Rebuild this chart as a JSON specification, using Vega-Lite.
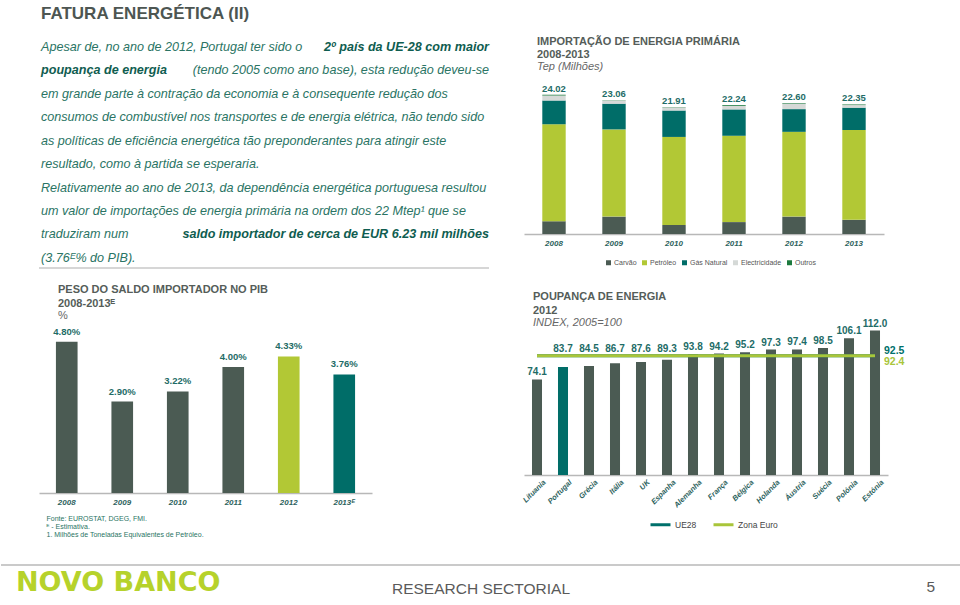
{
  "$schema": "https://vega.github.io/schema/vega-lite/v6.json",
  "padding": 0,
  "background": "white",
  "config": {
    "font": "Liberation Sans",
    "view": {"stroke": null},
    "axis": {"grid": false},
    "title": {"font": "Liberation Sans", "subtitleFont": "Liberation Sans", "frame": "group"},
    "legend": {"labelFont": "Liberation Sans"}
  },
  "datasets": {
    "paragrafo": [
      {"linha": 1, "parte": "início", "destaque": false, "texto": "Apesar de, no ano de 2012, Portugal ter sido o"},
      {"linha": 1, "parte": "fim", "destaque": true, "texto": "2º país da UE-28 com maior"},
      {"linha": 2, "parte": "início", "destaque": true, "texto": "poupança de energia"},
      {"linha": 2, "parte": "fim", "destaque": false, "texto": "(tendo 2005 como ano base), esta redução deveu-se"},
      {"linha": 3, "parte": "início", "destaque": false, "texto": "em grande parte à contração da economia e à consequente redução dos"},
      {"linha": 4, "parte": "início", "destaque": false, "texto": "consumos de combustível nos transportes e de energia elétrica, não tendo sido"},
      {"linha": 5, "parte": "início", "destaque": false, "texto": "as políticas de eficiência energética tão preponderantes para atingir este"},
      {"linha": 6, "parte": "início", "destaque": false, "texto": "resultado, como à partida se esperaria."},
      {"linha": 7, "parte": "início", "destaque": false, "texto": "Relativamente ao ano de 2013, da dependência energética portuguesa resultou"},
      {"linha": 8, "parte": "início", "destaque": false, "texto": "um valor de importações de energia primária na ordem dos 22 Mtep¹ que se"},
      {"linha": 9, "parte": "início", "destaque": false, "texto": "traduziram num"},
      {"linha": 9, "parte": "fim", "destaque": true, "texto": "saldo importador de cerca de EUR 6.23 mil milhões"},
      {"linha": 10, "parte": "início", "destaque": false, "texto": "(3.76ᴱ% do PIB)."}
    ],
    "importacao": [
      {"ano": "2008", "fonte": "Carvão", "valor": 2.20},
      {"ano": "2008", "fonte": "Petróleo", "valor": 16.75},
      {"ano": "2008", "fonte": "Gás Natural", "valor": 4.09},
      {"ano": "2008", "fonte": "Electricidade", "valor": 0.88},
      {"ano": "2008", "fonte": "Outros", "valor": 0.10},
      {"ano": "2009", "fonte": "Carvão", "valor": 3.00},
      {"ano": "2009", "fonte": "Petróleo", "valor": 15.05},
      {"ano": "2009", "fonte": "Gás Natural", "valor": 4.44},
      {"ano": "2009", "fonte": "Electricidade", "valor": 0.52},
      {"ano": "2009", "fonte": "Outros", "valor": 0.05},
      {"ano": "2010", "fonte": "Carvão", "valor": 1.55},
      {"ano": "2010", "fonte": "Petróleo", "valor": 15.20},
      {"ano": "2010", "fonte": "Gás Natural", "valor": 4.56},
      {"ano": "2010", "fonte": "Electricidade", "valor": 0.55},
      {"ano": "2010", "fonte": "Outros", "valor": 0.05},
      {"ano": "2011", "fonte": "Carvão", "valor": 2.05},
      {"ano": "2011", "fonte": "Petróleo", "valor": 14.90},
      {"ano": "2011", "fonte": "Gás Natural", "valor": 4.55},
      {"ano": "2011", "fonte": "Electricidade", "valor": 0.60},
      {"ano": "2011", "fonte": "Outros", "valor": 0.14},
      {"ano": "2012", "fonte": "Carvão", "valor": 3.00},
      {"ano": "2012", "fonte": "Petróleo", "valor": 14.63},
      {"ano": "2012", "fonte": "Gás Natural", "valor": 3.92},
      {"ano": "2012", "fonte": "Electricidade", "valor": 0.95},
      {"ano": "2012", "fonte": "Outros", "valor": 0.10},
      {"ano": "2013", "fonte": "Carvão", "valor": 2.45},
      {"ano": "2013", "fonte": "Petróleo", "valor": 15.50},
      {"ano": "2013", "fonte": "Gás Natural", "valor": 3.85},
      {"ano": "2013", "fonte": "Electricidade", "valor": 0.45},
      {"ano": "2013", "fonte": "Outros", "valor": 0.10}
    ],
    "totais": [
      {"ano": "2008", "total": 24.02},
      {"ano": "2009", "total": 23.06},
      {"ano": "2010", "total": 21.91},
      {"ano": "2011", "total": 22.24},
      {"ano": "2012", "total": 22.60},
      {"ano": "2013", "total": 22.35}
    ],
    "pib": [
      {"ano": "2008", "valor": 0.0480},
      {"ano": "2009", "valor": 0.0290},
      {"ano": "2010", "valor": 0.0322},
      {"ano": "2011", "valor": 0.0400},
      {"ano": "2012", "valor": 0.0433},
      {"ano": "2013ᴱ", "valor": 0.0376}
    ],
    "poupanca": [
      {"pais": "Lituania", "indice": 74.1},
      {"pais": "Portugal", "indice": 83.7},
      {"pais": "Grécia", "indice": 84.5},
      {"pais": "Itália", "indice": 86.7},
      {"pais": "UK", "indice": 87.6},
      {"pais": "Espanha", "indice": 89.3},
      {"pais": "Alemanha", "indice": 93.8},
      {"pais": "França", "indice": 94.2},
      {"pais": "Bélgica", "indice": 95.2},
      {"pais": "Holanda", "indice": 97.3},
      {"pais": "Áustria", "indice": 97.4},
      {"pais": "Suécia", "indice": 98.5},
      {"pais": "Polónia", "indice": 106.1},
      {"pais": "Estónia", "indice": 112.0}
    ],
    "linhas": [
      {"serie": "UE28", "valor": 92.5},
      {"serie": "Zona Euro", "valor": 92.4}
    ],
    "rodape": [
      {"papel": "marca", "texto": "NOVO BANCO"},
      {"papel": "secção", "texto": "RESEARCH SECTORIAL"},
      {"papel": "página", "texto": "5"}
    ]
  },
  "vconcat": [
    {
      "concat": [
        {"width": 3, "height": 1, "data": {"values": []}, "mark": {"type": "point", "opacity": 0}},
        {
          "width": 450,
          "height": 268,
          "layer": [
            {
              "data": {"values": [{"texto": "FATURA ENERGÉTICA (II)", "linha": 0}]},
              "mark": {"type": "text", "align": "left", "baseline": "middle", "fontSize": 17, "fontWeight": "bold", "color": "#4d5652", "dy": -9.5, "dx": 2},
              "encoding": {
                "x": {"datum": 0, "type": "quantitative", "scale": {"domain": [0, 1], "nice": false, "zero": false}, "axis": null},
                "y": {"field": "linha", "type": "quantitative", "scale": {"domain": [-1, 10.43], "reverse": true, "nice": false, "zero": false}, "axis": null},
                "text": {"field": "texto"}
              }
            },
            {
              "data": {"name": "paragrafo"},
              "transform": [{"filter": "datum.parte === 'início' && !datum.destaque"}],
              "mark": {"type": "text", "align": "left", "baseline": "middle", "fontSize": 12.6, "fontStyle": "italic", "color": "#2a7464", "dx": 2},
              "encoding": {
                "x": {"datum": 0, "type": "quantitative"},
                "y": {"field": "linha", "type": "quantitative"},
                "text": {"field": "texto"}
              }
            },
            {
              "data": {"name": "paragrafo"},
              "transform": [{"filter": "datum.parte === 'início' && datum.destaque"}],
              "mark": {"type": "text", "align": "left", "baseline": "middle", "fontSize": 12.6, "fontStyle": "italic", "fontWeight": "bold", "color": "#0f5d50", "dx": 2},
              "encoding": {
                "x": {"datum": 0, "type": "quantitative"},
                "y": {"field": "linha", "type": "quantitative"},
                "text": {"field": "texto"}
              }
            },
            {
              "data": {"name": "paragrafo"},
              "transform": [{"filter": "datum.parte === 'fim' && !datum.destaque"}],
              "mark": {"type": "text", "align": "right", "baseline": "middle", "fontSize": 12.6, "fontStyle": "italic", "color": "#2a7464"},
              "encoding": {
                "x": {"datum": 1, "type": "quantitative"},
                "y": {"field": "linha", "type": "quantitative"},
                "text": {"field": "texto"}
              }
            },
            {
              "data": {"name": "paragrafo"},
              "transform": [{"filter": "datum.parte === 'fim' && datum.destaque"}],
              "mark": {"type": "text", "align": "right", "baseline": "middle", "fontSize": 12.6, "fontStyle": "italic", "fontWeight": "bold", "color": "#0f5d50"},
              "encoding": {
                "x": {"datum": 1, "type": "quantitative"},
                "y": {"field": "linha", "type": "quantitative"},
                "text": {"field": "texto"}
              }
            },
            {
              "data": {"values": [{"elemento": "separador"}]},
              "mark": {"type": "rule", "color": "#c8c8c8", "strokeWidth": 1.5},
              "encoding": {"y": {"datum": 10.43, "type": "quantitative"}}
            }
          ]
        },
        {
          "width": 360,
          "height": 234,
          "title": {
            "text": ["IMPORTAÇÃO DE ENERGIA PRIMÁRIA", "2008-2013"],
            "subtitle": "Tep (Milhões)",
            "anchor": "start",
            "dx": 13,
            "offset": -72,
            "fontSize": 11,
            "fontWeight": "bold",
            "color": "#555d59",
            "lineHeight": 13,
            "subtitleFontSize": 11,
            "subtitleFontStyle": "italic",
            "subtitleColor": "#666666",
            "subtitlePadding": 1
          },
          "layer": [
            {
              "data": {"name": "importacao"},
              "transform": [{"calculate": "indexof(['Carvão', 'Petróleo', 'Gás Natural', 'Electricidade', 'Outros'], datum.fonte)", "as": "ordem_pilha"}],
              "mark": {"type": "bar"},
              "encoding": {
                "x": {
                  "field": "ano", "type": "nominal", "sort": null,
                  "scale": {"paddingInner": 0.61, "paddingOuter": 0.305},
                  "axis": {"title": null, "labelAngle": 0, "ticks": false, "labelFontSize": 8, "labelFontWeight": "bold", "labelFontStyle": "italic", "labelColor": "#2c625d", "domainColor": "#b8b8b8", "domainWidth": 1.5, "labelPadding": 5}
                },
                "y": {"aggregate": "sum", "field": "valor", "type": "quantitative", "scale": {"domain": [0, 40.38], "nice": false}, "axis": null},
                "order": {"field": "ordem_pilha", "type": "quantitative", "sort": "ascending"},
                "color": {
                  "field": "fonte", "type": "nominal",
                  "sort": ["Carvão", "Petróleo", "Gás Natural", "Electricidade", "Outros"],
                  "scale": {"domain": ["Carvão", "Petróleo", "Gás Natural", "Electricidade", "Outros"], "range": ["#4b5b53", "#b2c835", "#006d68", "#d5d9d7", "#1c7a3e"]},
                  "legend": {"orient": "none", "legendX": 81, "legendY": 259, "direction": "horizontal", "columns": 5, "title": null, "symbolType": "square", "symbolSize": 25, "symbolStrokeWidth": 0, "labelFontSize": 7, "labelColor": "#555555", "columnPadding": 4, "labelOffset": 2, "padding": 0}
                }
              }
            },
            {
              "data": {"name": "totais"},
              "mark": {"type": "text", "baseline": "bottom", "dy": -1, "fontSize": 9.5, "fontWeight": "bold", "color": "#1e6c67"},
              "encoding": {
                "x": {"field": "ano", "type": "nominal", "sort": null},
                "y": {"field": "total", "type": "quantitative"},
                "text": {"field": "total", "type": "quantitative", "format": ".2f"}
              }
            }
          ]
        },
        {"width": 3, "height": 1, "data": {"values": []}, "mark": {"type": "point", "opacity": 0}},
        {
          "width": 333,
          "height": 169,
          "title": {
            "text": ["PESO DO SALDO IMPORTADOR NO PIB", "2008-2013ᴱ"],
            "subtitle": "%",
            "anchor": "start",
            "dx": 19,
            "offset": 3.5,
            "fontSize": 11,
            "fontWeight": "bold",
            "color": "#555d59",
            "lineHeight": 14,
            "subtitleFontSize": 11,
            "subtitleColor": "#666666",
            "subtitlePadding": 1
          },
          "data": {"name": "pib"},
          "encoding": {
            "x": {
              "field": "ano", "type": "nominal", "sort": null,
              "scale": {"paddingInner": 0.61, "paddingOuter": 0.305},
              "axis": {
                "title": ["Fonte: EUROSTAT, DGEG, FMI.", "ᴱ - Estimativa.", "1. Milhões de Toneladas Equivalentes de Petróleo."],
                "titleAnchor": "start", "titleAlign": "left", "titleBaseline": "top", "titleX": 7, "titleY": 21,
                "titleFontSize": 7, "titleFontWeight": "normal", "titleColor": "#2a7464", "titleLineHeight": 8,
                "labelAngle": 0, "ticks": false, "labelFontSize": 8, "labelFontWeight": "bold", "labelFontStyle": "italic", "labelColor": "#2c625d", "domainColor": "#b8b8b8", "domainWidth": 1.5, "labelPadding": 5
              }
            },
            "y": {"field": "valor", "type": "quantitative", "scale": {"domain": [0, 0.0536], "nice": false}, "axis": null}
          },
          "layer": [
            {
              "mark": {"type": "bar"},
              "encoding": {
                "color": {
                  "field": "ano", "type": "nominal",
                  "scale": {"domain": ["2008", "2009", "2010", "2011", "2012", "2013ᴱ"], "range": ["#4b5b53", "#4b5b53", "#4b5b53", "#4b5b53", "#b2c835", "#006d68"]},
                  "legend": null
                }
              }
            },
            {
              "mark": {"type": "text", "baseline": "bottom", "dy": -5, "fontSize": 9.5, "fontWeight": "bold", "color": "#1e6c67"},
              "encoding": {"text": {"field": "valor", "type": "quantitative", "format": ".2%"}}
            }
          ]
        },
        {
          "width": 364,
          "height": 151,
          "title": {
            "text": ["POUPANÇA DE ENERGIA", "2012"],
            "subtitle": "INDEX, 2005=100",
            "anchor": "start",
            "dx": 9,
            "offset": -9,
            "fontSize": 11,
            "fontWeight": "bold",
            "color": "#555d59",
            "lineHeight": 14,
            "subtitleFontSize": 11,
            "subtitleFontStyle": "italic",
            "subtitleColor": "#666666",
            "subtitlePadding": 1
          },
          "layer": [
            {
              "data": {"name": "poupanca"},
              "mark": {"type": "bar"},
              "encoding": {
                "x": {
                  "field": "pais", "type": "nominal", "sort": null,
                  "scale": {"paddingInner": 0.615, "paddingOuter": 0.3075},
                  "axis": {"title": null, "labelAngle": -45, "labelAlign": "right", "labelOffset": 5, "ticks": false, "labelFontSize": 7.5, "labelFontWeight": "bold", "labelFontStyle": "italic", "labelColor": "#2c625d", "domainColor": "#b8b8b8", "domainWidth": 1.5, "labelPadding": 3}
                },
                "y": {"field": "indice", "type": "quantitative", "scale": {"domain": [0, 117.1], "nice": false}, "axis": null},
                "color": {"condition": {"test": "datum.pais === 'Portugal'", "value": "#006d68"}, "value": "#4b5b53"}
              }
            },
            {
              "data": {"name": "poupanca"},
              "transform": [{"calculate": "datum.indice > 80 && datum.indice < 92.4 ? 92.4 : datum.indice", "as": "posicao_rotulo"}],
              "mark": {"type": "text", "baseline": "bottom", "dy": -2, "fontSize": 10, "fontWeight": "bold", "color": "#1e6c67"},
              "encoding": {
                "x": {"field": "pais", "type": "nominal", "sort": null},
                "y": {"field": "posicao_rotulo", "type": "quantitative"},
                "text": {"field": "indice", "type": "quantitative", "format": ".1f"}
              }
            },
            {
              "data": {"name": "linhas"},
              "mark": {"type": "rule", "strokeWidth": 3},
              "encoding": {
                "x": {"datum": "Lituania", "bandPosition": 0.5},
                "x2": {"datum": "Estónia"},
                "y": {"field": "valor", "type": "quantitative"},
                "color": {
                  "field": "serie", "type": "nominal",
                  "scale": {"domain": ["UE28", "Zona Euro"], "range": ["#00706b", "#a9c53a"]},
                  "legend": {"orient": "none", "legendX": 125, "legendY": 189, "direction": "horizontal", "columns": 2, "title": null, "symbolType": "stroke", "symbolStrokeWidth": 3, "symbolSize": 400, "labelFontSize": 8.5, "labelColor": "#444444", "columnPadding": 10, "labelOffset": 3, "padding": 0}
                }
              }
            },
            {
              "data": {"name": "linhas"},
              "transform": [{"filter": "datum.serie === 'UE28'"}],
              "mark": {"type": "text", "align": "left", "baseline": "bottom", "dx": 9, "dy": 0, "fontSize": 10.5, "fontWeight": "bold"},
              "encoding": {
                "x": {"datum": "Estónia"},
                "y": {"field": "valor", "type": "quantitative"},
                "text": {"field": "valor", "type": "quantitative", "format": ".1f"},
                "color": {"field": "serie", "type": "nominal", "legend": null}
              }
            },
            {
              "data": {"name": "linhas"},
              "transform": [{"filter": "datum.serie === 'Zona Euro'"}],
              "mark": {"type": "text", "align": "left", "baseline": "top", "dx": 9, "dy": 1, "fontSize": 10.5, "fontWeight": "bold"},
              "encoding": {
                "x": {"datum": "Estónia"},
                "y": {"field": "valor", "type": "quantitative"},
                "text": {"field": "valor", "type": "quantitative", "format": ".1f"},
                "color": {"field": "serie", "type": "nominal", "legend": null}
              }
            }
          ]
        }
      ],
      "columns": 3,
      "spacing": {"row": 56, "column": 35},
      "bounds": "flush",
      "align": "each",
      "resolve": {"scale": {"color": "independent"}, "legend": {"color": "independent"}}
    },
    {
      "width": 960,
      "height": 39,
      "layer": [
        {
          "data": {"values": [{"elemento": "separador"}]},
          "mark": {"type": "rule", "color": "#b8b8b8", "strokeWidth": 1.5},
          "encoding": {
            "x": {"datum": 0, "type": "quantitative", "scale": {"domain": [0, 1], "nice": false, "zero": false}, "axis": null},
            "x2": {"datum": 1},
            "y": {"datum": 0, "type": "quantitative", "scale": {"domain": [0, 1], "reverse": true, "nice": false, "zero": false}, "axis": null}
          }
        },
        {
          "data": {"name": "rodape"},
          "transform": [{"filter": "datum.papel === 'marca'"}],
          "mark": {"type": "text", "align": "left", "baseline": "middle", "font": "DejaVu Sans", "fontWeight": "bold", "fontSize": 27, "color": "#b6d22b", "dx": 15, "dy": -1.5},
          "encoding": {
            "x": {"datum": 0, "type": "quantitative"},
            "text": {"field": "texto"}
          }
        },
        {
          "data": {"name": "rodape"},
          "transform": [{"filter": "datum.papel === 'secção'"}],
          "mark": {"type": "text", "align": "center", "baseline": "middle", "fontSize": 15.5, "color": "#5a5a5a", "dy": 4},
          "encoding": {"text": {"field": "texto"}}
        },
        {
          "data": {"name": "rodape"},
          "transform": [{"filter": "datum.papel === 'página'"}],
          "mark": {"type": "text", "align": "right", "baseline": "middle", "fontSize": 15.5, "color": "#5a5a5a", "dx": -26, "dy": 2},
          "encoding": {
            "x": {"datum": 1, "type": "quantitative"},
            "text": {"field": "texto"}
          }
        }
      ]
    }
  ],
  "spacing": 27
}
